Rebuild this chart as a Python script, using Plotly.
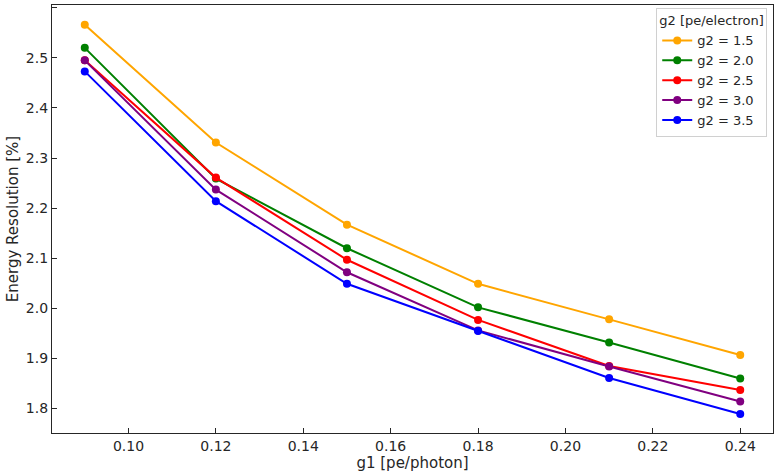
import plotly.graph_objects as go

g1 = [0.09, 0.12, 0.15, 0.18, 0.21, 0.24]
g2_labels = ["g2 = 1.5", "g2 = 2.0", "g2 = 2.5", "g2 = 3.0", "g2 = 3.5"]
res_g2_15 = [2.566, 2.331, 2.167, 2.049, 1.978, 1.907]
res_g2_20 = [2.520, 2.259, 2.120, 2.002, 1.932, 1.860]
res_g2_25 = [2.495, 2.261, 2.097, 1.977, 1.885, 1.837]
res_g2_30 = [2.495, 2.237, 2.072, 1.956, 1.884, 1.814]
res_g2_35 = [2.473, 2.214, 2.049, 1.955, 1.861, 1.789]
colors = ["#FFA500", "#008000", "#FF0000", "#800080", "#0000FF"]

series = [res_g2_15, res_g2_20, res_g2_25, res_g2_30, res_g2_35]

fig = go.Figure()
for name, vals, c in zip(g2_labels, series, colors):
    fig.add_trace(go.Scatter(
        x=g1, y=vals, name=name, mode="lines+markers",
        line=dict(color=c, width=2),
        marker=dict(color=c, size=8),
    ))

font = dict(family="DejaVu Sans", size=14, color="#262626")
title_font = dict(family="DejaVu Sans", size=15, color="#262626")
legend_font = dict(family="DejaVu Sans", size=13, color="#262626")
axis_common = dict(
    showgrid=False, zeroline=False, showline=True, linecolor="#262626",
    linewidth=1.2, mirror=True, ticks="inside", ticklen=5, tickwidth=1,
    tickcolor="#262626", tickfont=font,
)
fig.update_layout(
    width=775, height=476,
    margin=dict(l=52, r=2, t=5, b=43, autoexpand=False),
    paper_bgcolor="white", plot_bgcolor="white",
    font=font,
    xaxis=dict(range=[0.0825, 0.2475], dtick=0.02, tick0=0.1, tickformat=".2f",
               title=dict(text="g1 [pe/photon]", font=title_font, standoff=2), **axis_common),
    yaxis=dict(range=[1.7512, 2.6055], dtick=0.1, tick0=1.8, tickformat=".1f",
               title=dict(text="Energy Resolution [%]", font=title_font, standoff=3), **axis_common),
    legend=dict(
        title=dict(text="g2 [pe/electron]", font=legend_font),
        x=0.992, y=0.994, xanchor="right", yanchor="top",
        bgcolor="white", bordercolor="#d0d0d0", borderwidth=1,
        font=legend_font,
        itemwidth=30, tracegroupgap=0,
    ),
)

fig.write_html("out.html", config={"displayModeBar": False},
               post_script="document.body.style.margin='0';document.body.style.padding='0';")
